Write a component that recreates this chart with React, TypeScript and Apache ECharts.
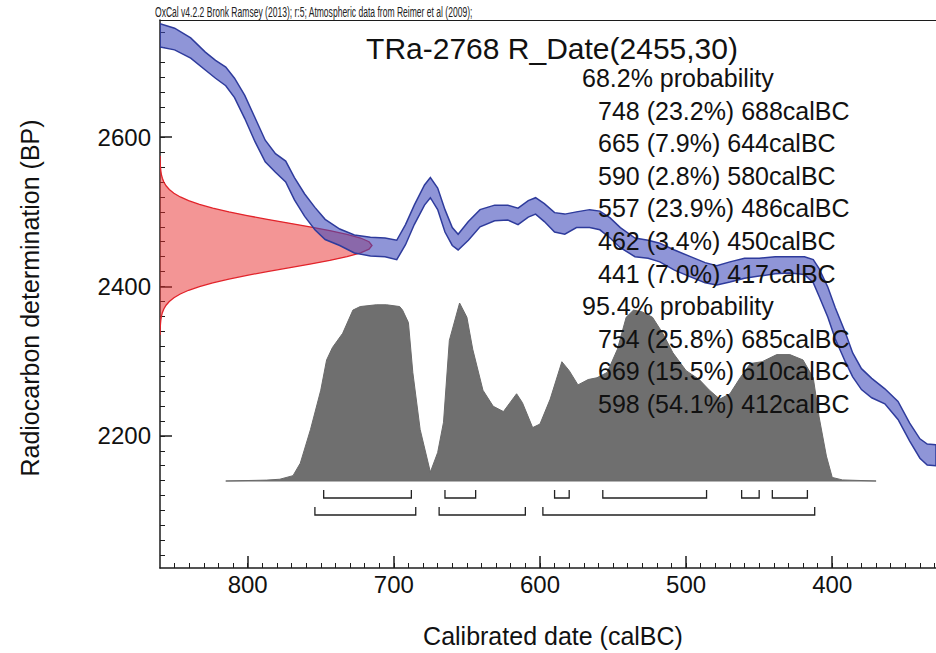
import React, { useEffect, useRef } from "react";
import * as echarts from "echarts";

// ---------- data ----------
// Calibration curve band (calBC, upper / lower radiocarbon age BP)
const curveCalBC = [860, 850, 839, 829, 822, 815, 809, 802, 795, 788, 781, 774, 768, 761, 754, 747, 737, 727, 716, 706, 698, 692, 686, 679, 675, 670, 665, 660, 656, 649, 641, 631, 622, 615, 608, 603, 597, 590, 583, 575, 566, 559, 552, 545, 535, 526, 518, 508, 497, 487, 479, 470, 460, 450, 439, 429, 419, 413, 409, 403, 398, 391, 386, 380, 373, 364, 355, 347, 340, 335, 329];
const curveUpperBP = [2752, 2746, 2733, 2714, 2703, 2694, 2679, 2656, 2626, 2596, 2578, 2568, 2546, 2524, 2506, 2490, 2477, 2469, 2466, 2465, 2462, 2483, 2509, 2536, 2546, 2532, 2503, 2479, 2470, 2487, 2503, 2509, 2509, 2505, 2515, 2519, 2511, 2499, 2497, 2500, 2503, 2501, 2492, 2479, 2465, 2462, 2458, 2449, 2440, 2432, 2428, 2433, 2438, 2438, 2440, 2440, 2440, 2436, 2424, 2399, 2372, 2338, 2311, 2290, 2277, 2263, 2246, 2217, 2196, 2189, 2188];
const curveLowerBP = [2721, 2717, 2706, 2690, 2679, 2669, 2653, 2625, 2594, 2567, 2553, 2540, 2516, 2494, 2476, 2463, 2455, 2445, 2441, 2440, 2436, 2456, 2483, 2509, 2519, 2503, 2473, 2455, 2449, 2462, 2480, 2488, 2489, 2483, 2493, 2497, 2487, 2473, 2470, 2479, 2479, 2476, 2465, 2452, 2440, 2438, 2433, 2422, 2413, 2405, 2402, 2406, 2411, 2414, 2417, 2418, 2416, 2405, 2387, 2359, 2330, 2299, 2279, 2262, 2251, 2243, 2222, 2193, 2170, 2161, 2160];

// Radiocarbon date distribution (BP, relative probability)
const dateBP = [2335, 2340, 2345, 2350, 2355, 2360, 2365, 2370, 2375, 2380, 2385, 2390, 2395, 2400, 2405, 2410, 2415, 2420, 2425, 2430, 2435, 2440, 2445, 2450, 2455, 2460, 2465, 2470, 2475, 2480, 2485, 2490, 2495, 2500, 2505, 2510, 2515, 2520, 2525, 2530, 2535, 2540, 2545, 2550, 2555, 2560, 2565, 2570, 2575];
const dateProb = [0.0003, 0.0006, 0.0012, 0.0022, 0.0039, 0.0066, 0.0111, 0.0181, 0.0286, 0.0439, 0.0657, 0.0956, 0.135, 0.186, 0.249, 0.325, 0.411, 0.506, 0.607, 0.707, 0.801, 0.882, 0.946, 0.986, 1, 0.986, 0.946, 0.882, 0.801, 0.707, 0.607, 0.506, 0.411, 0.325, 0.249, 0.186, 0.135, 0.0956, 0.0657, 0.0439, 0.0286, 0.0181, 0.0111, 0.0066, 0.0039, 0.0022, 0.0012, 0.0006, 0.0003];

// Calibrated distribution (calBC, relative probability)
const histCalBC = [815, 787, 778, 769, 764, 757, 750, 746, 742, 735, 728, 723, 712, 705, 696, 694, 690, 687, 682, 675, 670, 666, 662, 655, 650, 646, 639, 632, 625, 616, 612, 605, 600, 593, 585, 580, 574, 567, 561, 554, 547, 541, 536, 530, 523, 516, 509, 500, 491, 484, 477, 470, 463, 456, 448, 438, 429, 420, 413, 409, 404, 400, 393, 370];
const histProb = [0, 0.005, 0.01, 0.03, 0.1, 0.29, 0.51, 0.68, 0.75, 0.83, 0.96, 0.98, 0.99, 0.99, 0.98, 0.96, 0.89, 0.61, 0.29, 0.05, 0.16, 0.33, 0.79, 1.0, 0.92, 0.74, 0.51, 0.42, 0.39, 0.49, 0.44, 0.3, 0.32, 0.46, 0.67, 0.62, 0.54, 0.57, 0.58, 0.61, 0.74, 0.92, 0.96, 0.95, 0.92, 0.83, 0.72, 0.62, 0.57, 0.51, 0.46, 0.49, 0.58, 0.66, 0.67, 0.71, 0.71, 0.68, 0.58, 0.36, 0.14, 0.02, 0.006, 0];

// Highest probability ranges
const range68From = [748, 665, 590, 557, 462, 441];
const range68To = [688, 644, 580, 486, 450, 417];
const range68Pct = [23.2, 7.9, 2.8, 23.9, 3.4, 7.0];
const range95From = [754, 669, 598];
const range95To = [685, 610, 412];
const range95Pct = [25.8, 15.5, 54.1];

// Axes
const xMin = 329;
const xMax = 860;
const yMin = 2023;
const yMax = 2757;
const xMajorTicks = [400, 500, 600, 700, 800];
const xMinorTicks = Array.from({ length: 53 }, (_, i) => 330 + i * 10);
const yMajorTicks = [2200, 2400, 2600];
const yMinorTicks = Array.from({ length: 36 }, (_, i) => 2040 + i * 20);

const headerText = "OxCal v4.2.2 Bronk Ramsey (2013); r:5; Atmospheric data from Reimer et al (2009);";
const titleText = "TRa-2768 R_Date(2455,30)";
const xAxisName = "Calibrated date (calBC)";
const yAxisName = "Radiocarbon determination (BP)";
const heading68 = "68.2% probability";
const heading95 = "95.4% probability";

// ---------- layout ----------
const W = 936;
const H = 653;
const FONT = "'Liberation Sans', Arial, Helvetica, sans-serif";
const gridLeft = 160;
const gridTop = 20;
const gridBottomY = 568;
const histBaseY = 481;
const histTopY = 303;
const datePeakX = 372;
const histMin = -(gridBottomY - histBaseY) / (histBaseY - histTopY);
const histMax = (histBaseY - gridTop) / (histBaseY - histTopY);
const dateProbMax = (W - gridLeft) / (datePeakX - gridLeft);
const bracketOffsets = [17, 34];
const bracketTick = 8;
const AXIS_COLOR = "#1c1c1c";

function fmtRange(f: number, p: number, t: number) {
  return `${f} (${p.toFixed(1)}%) ${t}calBC`;
}

export default function App() {
  const ref = useRef<HTMLDivElement>(null);

  useEffect(() => {
    if (!ref.current) return;
    const chart = echarts.init(ref.current, null, { renderer: "svg" });

    const textLines: any[] = [];
    const lineStart = 78;
    const lineStep = 32.6;
    const allLines: { text: string; indent: boolean }[] = [];
    allLines.push({ text: heading68, indent: false });
    range68From.forEach((f, i) => allLines.push({ text: fmtRange(f, range68Pct[i], range68To[i]), indent: true }));
    allLines.push({ text: heading95, indent: false });
    range95From.forEach((f, i) => allLines.push({ text: fmtRange(f, range95Pct[i], range95To[i]), indent: true }));
    allLines.forEach((l, i) => {
      textLines.push({
        type: "text",
        x: l.indent ? 598 : 582,
        y: lineStart + i * lineStep,
        z: 100,
        style: { text: l.text, fontSize: 25, fontFamily: FONT, fill: "#111", verticalAlign: "middle", align: "left" },
      });
    });

    const bracketData: number[][] = [];
    range68From.forEach((f, i) => bracketData.push([f, range68To[i], 0]));
    range95From.forEach((f, i) => bracketData.push([f, range95To[i], 1]));

    const option: any = {
      animation: false,
      backgroundColor: "#ffffff",
      grid: { left: gridLeft, right: 0, top: gridTop, bottom: H - gridBottomY, containLabel: false },
      xAxis: [
        {
          type: "value", min: xMin, max: xMax, inverse: true, position: "bottom",
          axisLine: { show: true, onZero: false, lineStyle: { color: AXIS_COLOR, width: 1.5 } },
          axisTick: { show: true, inside: true, length: 12, customValues: xMajorTicks, lineStyle: { color: AXIS_COLOR, width: 1.5 } },
          axisLabel: { show: true, customValues: xMajorTicks, fontSize: 24, fontFamily: FONT, color: "#111", margin: 4, formatter: (v: number) => String(v) },
          splitLine: { show: false },
        },
        {
          type: "value", min: xMin, max: xMax, inverse: true, position: "bottom", offset: 0,
          axisLine: { show: false, onZero: false },
          axisTick: { show: true, inside: true, length: 5, customValues: xMinorTicks, lineStyle: { color: AXIS_COLOR, width: 1 } },
          axisLabel: { show: false },
          splitLine: { show: false },
        },
        {
          type: "value", min: 0, max: dateProbMax, show: false, position: "bottom",
          axisLine: { onZero: false }, splitLine: { show: false },
        },
        {
          type: "value", min: 0, max: 1, position: "top",
          axisLine: { show: true, onZero: false, lineStyle: { color: AXIS_COLOR, width: 1.2 } },
          axisTick: { show: false }, axisLabel: { show: false }, splitLine: { show: false },
        },
      ],
      yAxis: [
        {
          type: "value", min: yMin, max: yMax, position: "left",
          axisLine: { show: true, onZero: false, lineStyle: { color: AXIS_COLOR, width: 1.5 } },
          axisTick: { show: true, inside: true, length: 12, customValues: yMajorTicks, lineStyle: { color: AXIS_COLOR, width: 1.5 } },
          axisLabel: { show: true, customValues: yMajorTicks, fontSize: 24, fontFamily: FONT, color: "#111", margin: 9, formatter: (v: number) => String(v) },
          splitLine: { show: false },
        },
        {
          type: "value", min: yMin, max: yMax, position: "left", offset: 0,
          axisLine: { show: false, onZero: false },
          axisTick: { show: true, inside: true, length: 5, customValues: yMinorTicks, lineStyle: { color: AXIS_COLOR, width: 1 } },
          axisLabel: { show: false },
          splitLine: { show: false },
        },
        {
          type: "value", min: histMin, max: histMax, show: false, position: "right",
          axisLine: { onZero: false }, splitLine: { show: false },
        },
      ],
      series: [
        {
          // R_Date distribution (red, on the BP axis)
          type: "custom", name: "R_Date", xAxisIndex: 2, yAxisIndex: 0, z: 2, clip: true,
          data: dateBP.map((b, i) => [dateProb[i], b]),
          renderItem: (params: any, api: any) => {
            if (params.dataIndex !== 0) return null;
            const pts = dateBP.map((b, i) => api.coord([dateProb[i], b]));
            const poly = pts.slice();
            poly.push(api.coord([0, dateBP[dateBP.length - 1]]));
            poly.unshift(api.coord([0, dateBP[0]]));
            return {
              type: "group",
              children: [
                { type: "polygon", shape: { points: poly }, style: { fill: "rgba(232,44,44,0.5)", stroke: "none" } },
                { type: "polyline", shape: { points: pts }, style: { fill: "none", stroke: "#e2232a", lineWidth: 1.3 } },
              ],
            };
          },
        },
        {
          // calibration curve band
          type: "custom", name: "IntCal09", xAxisIndex: 0, yAxisIndex: 0, z: 3, clip: true,
          data: curveCalBC.map((c, i) => [c, curveUpperBP[i]]),
          renderItem: (params: any, api: any) => {
            if (params.dataIndex !== 0) return null;
            const pts: number[][] = [];
            for (let i = 0; i < curveCalBC.length; i++) pts.push(api.coord([curveCalBC[i], curveUpperBP[i]]));
            for (let i = curveCalBC.length - 1; i >= 0; i--) pts.push(api.coord([curveCalBC[i], curveLowerBP[i]]));
            return {
              type: "polygon",
              shape: { points: pts },
              style: { fill: "rgba(62,72,186,0.58)", stroke: "#2e3b9c", lineWidth: 1.5 },
            };
          },
        },
        {
          // calibrated distribution
          type: "custom", name: "Calibrated", xAxisIndex: 0, yAxisIndex: 2, z: 4, clip: true,
          data: histCalBC.map((c, i) => [c, histProb[i]]),
          renderItem: (params: any, api: any) => {
            if (params.dataIndex !== 0) return null;
            const pts = histCalBC.map((c, i) => api.coord([c, histProb[i]]));
            return {
              type: "polygon",
              shape: { points: pts },
              style: { fill: "#6f6f6f", stroke: "#6a6a6a", lineWidth: 1 },
            };
          },
        },
        {
          // probability range brackets
          type: "custom", name: "Ranges", xAxisIndex: 0, yAxisIndex: 2, z: 5, clip: false,
          data: bracketData,
          renderItem: (params: any, api: any) => {
            const a = api.coord([api.value(0), 0]);
            const b = api.coord([api.value(1), 0]);
            const row = api.value(2);
            const yl = a[1] + bracketOffsets[row];
            const yt = yl - bracketTick;
            return {
              type: "polyline",
              shape: { points: [[a[0], yt], [a[0], yl], [b[0], yl], [b[0], yt]] },
              style: { fill: "none", stroke: "#222", lineWidth: 1.3 },
            };
          },
        },
      ],
      graphic: [
        {
          type: "text", x: 155, y: 12, z: 100, scaleX: 0.57,
          style: { text: headerText, fontSize: 15, fontFamily: FONT, fill: "#222", verticalAlign: "middle" },
        },
        {
          type: "text", x: 552, y: 48, z: 100,
          style: { text: titleText, fontSize: 30, fontFamily: FONT, fill: "#111", align: "center", verticalAlign: "middle" },
        },
        {
          type: "text", x: 553, y: 636, z: 100,
          style: { text: xAxisName, fontSize: 25, fontFamily: FONT, fill: "#111", align: "center", verticalAlign: "middle" },
        },
        {
          type: "text", x: 30, y: 298, z: 100, rotation: Math.PI / 2,
          style: { text: yAxisName, fontSize: 25, fontFamily: FONT, fill: "#111", align: "center", verticalAlign: "middle" },
        },
        ...textLines,
      ],
    };

    chart.setOption(option);
    return () => chart.dispose();
  }, []);

  return (
    <div
      ref={ref}
      style={{ position: "fixed", left: 0, top: 0, width: W, height: H, background: "#fff" }}
    />
  );
}
